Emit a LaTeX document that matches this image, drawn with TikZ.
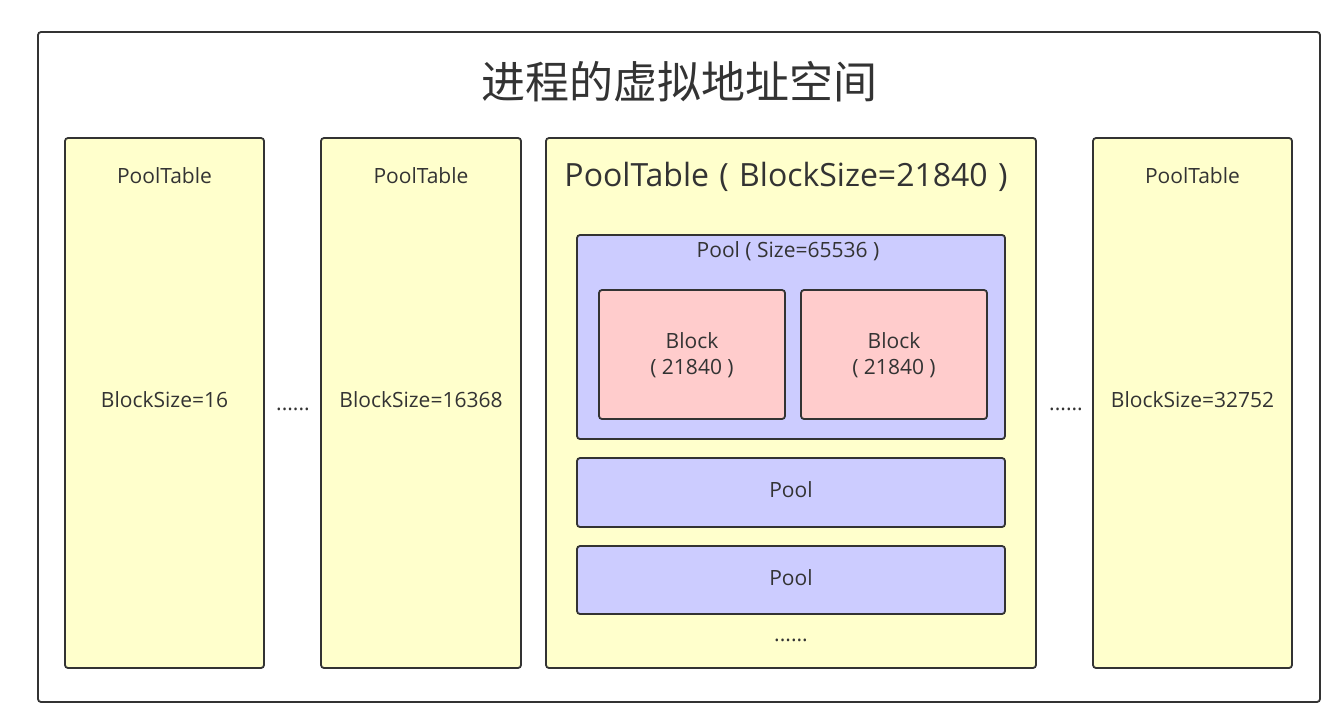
\documentclass[tikz,border=0pt]{standalone}
\usepackage{fontspec}
\setmainfont{Open Sans}
\newfontfamily\cjk{Noto Sans CJK SC}
\definecolor{edge}{HTML}{333333}
\definecolor{txt}{HTML}{333333}
\definecolor{ylw}{HTML}{FFFFCC}
\definecolor{blu}{HTML}{CCCCFF}
\definecolor{pnk}{HTML}{FFCCCC}
\tikzset{
  box/.style={draw=edge, line width=1.8pt, rounded corners=3pt, inner sep=0pt},
  tbox/.style={box, fill=ylw},
  pbox/.style={box, fill=blu},
  bbox/.style={box, fill=pnk},
  lbl/.style={text=txt, inner sep=0pt, font=\fontsize{21}{26}\selectfont, align=center},
  biglbl/.style={text=txt, inner sep=0pt, font=\fontsize{32}{36}\selectfont},
  ttl/.style={text=txt, inner sep=0pt, font=\cjk\fontsize{44}{50}\selectfont},
}
\begin{document}
\begin{tikzpicture}[x=1pt,y=-1pt]
\useasboundingbox (0,0) rectangle (1344,712);
% outer frame
\node[box, fill=white, minimum width=1282pt, minimum height=670pt] (frame) at (679,367) {};
\node[ttl] (title) at (679,82) {进程的虚拟地址空间};
% pool table 1
\node[tbox, minimum width=199pt, minimum height=530pt] (t1) at (164.5,403) {};
\node[lbl] (t1a) at (164.5,176) {PoolTable};
\node[lbl] (t1b) at (164.5,400) {BlockSize=16};
\node[lbl] (d1) at (293,409) {......};
% pool table 2
\node[tbox, minimum width=200pt, minimum height=530pt] (t2) at (421,403) {};
\node[lbl] (t2a) at (421,176) {PoolTable};
\node[lbl] (t2b) at (421,400) {BlockSize=16368};
% central pool table
\node[tbox, minimum width=490pt, minimum height=530pt] (t3) at (791,403) {};
\node[biglbl] (t3a) at (786,177) {PoolTable\hspace{2pt} (\hspace{2pt} BlockSize=21840\hspace{2pt} )};
\node[pbox, minimum width=428pt, minimum height=204pt] (p1) at (791,337) {};
\node[lbl] (p1a) at (788,251) {Pool ( Size=65536 )};
\node[bbox, minimum width=186pt, minimum height=129pt] (b1) at (692,354.5) {};
\node[lbl] (b1a) at (692,355) {Block\\( 21840 )};
\node[bbox, minimum width=186pt, minimum height=129pt] (b2) at (894,354.5) {};
\node[lbl] (b2a) at (894,355) {Block\\( 21840 )};
\node[pbox, minimum width=428pt, minimum height=69pt] (p2) at (791,492.5) {};
\node[lbl] (p2a) at (791,490) {Pool};
\node[pbox, minimum width=428pt, minimum height=68pt] (p3) at (791,580) {};
\node[lbl] (p3a) at (791,578) {Pool};
\node[lbl] (d2) at (791,640) {......};
% right
\node[lbl] (d3) at (1066,409) {......};
\node[tbox, minimum width=199pt, minimum height=530pt] (t4) at (1192.5,403) {};
\node[lbl] (t4a) at (1192.5,176) {PoolTable};
\node[lbl] (t4b) at (1192.5,400) {BlockSize=32752};
\end{tikzpicture}
\end{document}
